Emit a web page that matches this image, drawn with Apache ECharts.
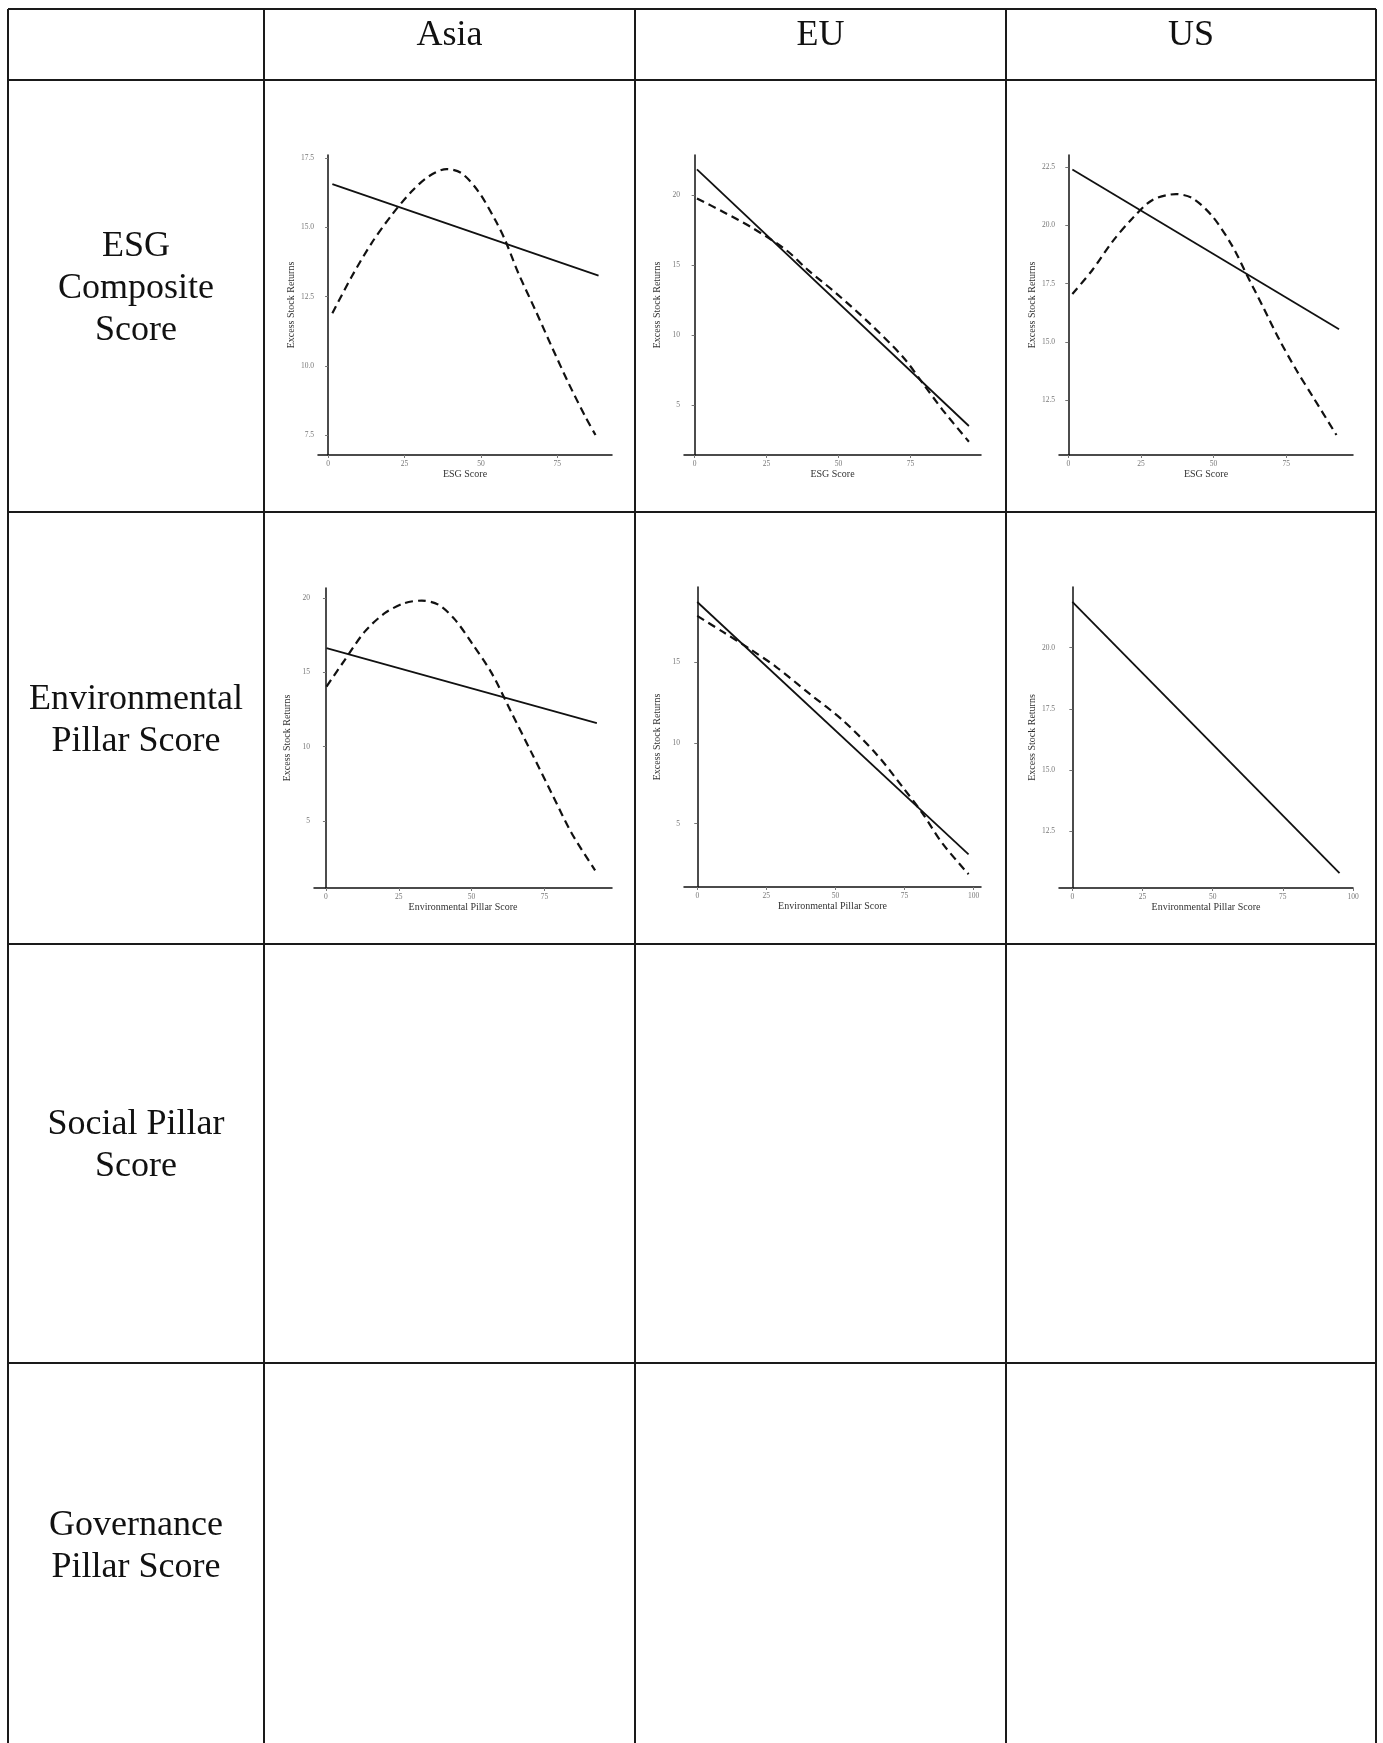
<!DOCTYPE html>
<html>
<head>
<meta charset="utf-8">
<script src="https://cdn.jsdelivr.net/npm/echarts@6/dist/echarts.min.js"></script>
<style>
html, body { margin: 0; padding: 0; background: #fff; }
#chart { width: 1383px; height: 1743px; }
</style>
</head>
<body>
<div id="chart"></div>
<script>
var regions = ['Asia', 'EU', 'US'];
var rowLabels = ['ESG\nComposite\nScore', 'Environmental\nPillar Score', 'Social Pillar\nScore', 'Governance\nPillar Score'];
var xTitles = ['ESG Score', 'Environmental Pillar Score'];
var yTitle = 'Excess Stock Returns';

// tick labels
var xTicksEsg = [0, 25, 50, 75];
var xTicksEnv = [0, 25, 50, 75, 100];
var yTicksAsiaEsg = [7.5, 10, 12.5, 15, 17.5];
var yTicksEuEsg = [5, 10, 15, 20];
var yTicksUsEsg = [12.5, 15, 17.5, 20, 22.5];
var yTicksAsiaEnv = [5, 10, 15, 20];
var yTicksEuEnv = [5, 10, 15];
var yTicksUsEnv = [12.5, 15, 17.5, 20];

// fitted lines, [score, excess return]
var asiaEsgLinear = [[1.4, 16.57], [88.5, 13.26]];
var asiaEsgCurve = [[1.4, 11.9], [7.7, 13.22], [14.2, 14.43], [20.8, 15.45], [27.3, 16.3], [32.8, 16.84], [38.8, 17.11],
    [43.7, 16.96], [49.2, 16.3], [54.7, 15.27], [57.9, 14.55], [62.3, 13.34], [67.8, 12.02], [73.2, 10.69],
    [78.7, 9.37], [84.2, 8.16], [87.5, 7.5]];

var euEsgLinear = [[0.8, 21.83], [95.3, 3.5]];
var euEsgCurve = [[0.8, 19.76], [9.8, 18.81], [20.3, 17.62], [31.8, 16.07], [39.4, 14.64], [49.2, 12.98],
    [60.8, 10.83], [72.3, 8.45], [79.3, 6.55], [86.2, 4.64], [95.3, 2.38]];

var usEsgLinear = [[1.4, 22.41], [93.2, 15.54]];
var usEsgCurve = [[1.4, 17.06], [8.3, 18.09], [15.2, 19.31], [22.1, 20.31], [29.0, 21.1], [37.1, 21.35], [42.8, 21.17],
    [49.7, 20.38], [56.6, 19.09], [61.2, 17.94], [67.0, 16.51], [72.7, 15.08], [78.5, 13.79], [84.2, 12.64], [92.3, 11.0]];

var asiaEnvLinear = [[0.2, 16.63], [93.0, 11.57]];
var asiaEnvCurve = [[0.2, 14.04], [6.5, 15.84], [13.4, 17.75], [20.3, 18.99], [27.1, 19.66], [32.9, 19.82], [38.6, 19.55],
    [44.3, 18.54], [50.1, 16.96], [56.9, 14.94], [63.8, 12.24], [70.7, 9.54], [77.5, 6.85], [84.4, 4.15], [92.4, 1.67]];

var euEnvLinear = [[0, 18.71], [98.2, 3.1]];
var euEnvCurve = [[0, 17.85], [9.3, 16.86], [18.9, 15.82], [28.6, 14.69], [40.6, 13.04], [52.7, 11.39],
    [64.7, 9.33], [74.3, 7.27], [81.6, 5.62], [88.8, 3.76], [98.2, 1.87]];

var usEnvLinear = [[0, 21.86], [95.2, 10.8]];

var FONT = "'Liberation Serif', 'Times New Roman', serif";

var panels = [
    { box: [318, 155, 294, 300], x: [-3.3, 92.9], y: [6.78, 17.62], xt: xTicksEsg, yt: yTicksAsiaEsg, title: 0, solid: asiaEsgLinear, dashed: asiaEsgCurve },
    { box: [684, 155, 297, 300], x: [-3.7, 99.5], y: [1.43, 22.86], xt: xTicksEsg, yt: yTicksEuEsg, title: 0, solid: euEsgLinear, dashed: euEsgCurve },
    { box: [1059, 155, 294, 300], x: [-3.2, 98.0], y: [10.14, 23.03], xt: xTicksEsg, yt: yTicksUsEsg, title: 0, solid: usEsgLinear, dashed: usEsgCurve },
    { box: [314, 588, 298, 300], x: [-4.1, 98.2], y: [0.48, 20.67], xt: xTicksEsg, yt: yTicksAsiaEnv, title: 1, solid: asiaEnvLinear, dashed: asiaEnvCurve },
    { box: [684, 587, 297, 300], x: [-4.8, 102.7], y: [1.08, 19.64], xt: xTicksEnv, yt: yTicksEuEnv, title: 1, solid: euEnvLinear, dashed: euEnvCurve },
    { box: [1059, 587, 294, 301], x: [-4.76, 100], y: [10.19, 22.47], xt: xTicksEnv, yt: yTicksUsEnv, title: 1, solid: usEnvLinear, dashed: null }
];

function fmt(ticks) {
    var dec = ticks.some(function (t) { return t % 1 !== 0; }) ? 1 : 0;
    return function (v) { return Number(v).toFixed(dec); };
}

var grids = [], xAxes = [], yAxes = [], series = [];

panels.forEach(function (p, i) {
    grids.push({ left: p.box[0], top: p.box[1], width: p.box[2], height: p.box[3] });
    xAxes.push({
        type: 'value', gridIndex: i, min: p.x[0], max: p.x[1],
        name: xTitles[p.title], nameLocation: 'middle', nameGap: 14,
        nameTextStyle: { fontFamily: FONT, fontSize: 10, color: '#333' },
        axisLine: { show: true, lineStyle: { color: '#111', width: 1.5 } },
        axisTick: { show: true, length: 3, customValues: p.xt, lineStyle: { color: '#777' } },
        axisLabel: { customValues: p.xt, formatter: fmt(p.xt), fontFamily: FONT, fontSize: 7.5, color: '#777', margin: 5 },
        splitLine: { show: false }
    });
    yAxes.push({
        type: 'value', gridIndex: i, min: p.y[0], max: p.y[1],
        name: yTitle, nameLocation: 'middle', nameRotate: 90, nameGap: 22,
        nameTextStyle: { fontFamily: FONT, fontSize: 10, color: '#333' },
        axisLine: { show: true, lineStyle: { color: '#111', width: 1.5 } },
        axisTick: { show: true, length: 3, customValues: p.yt, lineStyle: { color: '#777' } },
        axisLabel: { customValues: p.yt, formatter: fmt(p.yt), fontFamily: FONT, fontSize: 7.5, color: '#777', margin: 4 },
        splitLine: { show: false }
    });
    series.push({
        type: 'line', xAxisIndex: i, yAxisIndex: i, data: p.solid,
        symbol: 'none', silent: true,
        lineStyle: { color: '#111', width: 1.8, type: 'solid' }
    });
    if (p.dashed) {
        series.push({
            type: 'line', xAxisIndex: i, yAxisIndex: i, data: p.dashed,
            symbol: 'none', silent: true, smooth: 0.3,
            lineStyle: { color: '#111', width: 2.2, type: [8, 5] }
        });
    }
});

// table frame
var colEdges = [8, 264, 635, 1006, 1376];
var rowEdges = [9, 80, 512, 944, 1363];
var graphics = [];
rowEdges.forEach(function (y) {
    graphics.push({ type: 'line', shape: { x1: 8, y1: y, x2: 1376, y2: y }, style: { stroke: '#1a1a1a', lineWidth: 2 } });
});
colEdges.forEach(function (x) {
    graphics.push({ type: 'line', shape: { x1: x, y1: 9, x2: x, y2: 1743 }, style: { stroke: '#1a1a1a', lineWidth: 2 } });
});
regions.forEach(function (r, i) {
    graphics.push({
        type: 'text', x: (colEdges[i + 1] + colEdges[i + 2]) / 2, y: 36,
        style: { text: r, font: '36px ' + FONT, fill: '#111', align: 'center', verticalAlign: 'middle' }
    });
});
var labelCenters = [289, 721, 1146, 1547];
rowLabels.forEach(function (t, i) {
    graphics.push({
        type: 'text', x: 136, y: labelCenters[i],
        style: { text: t, font: '36px ' + FONT, fill: '#111', align: 'center', verticalAlign: 'middle', lineHeight: 42 }
    });
});

var chart = echarts.init(document.getElementById('chart'));
chart.setOption({
    animation: false,
    backgroundColor: '#fff',
    grid: grids,
    xAxis: xAxes,
    yAxis: yAxes,
    series: series,
    graphic: graphics
});
</script>
</body>
</html>
